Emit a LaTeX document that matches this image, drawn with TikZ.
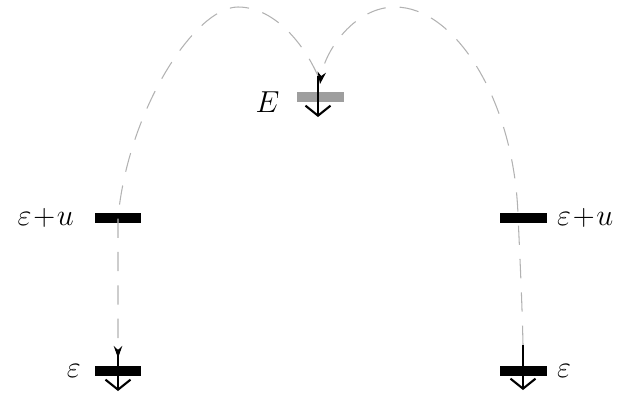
\documentclass[tikz,border=0pt]{standalone}
\usepackage{amsmath}
\usepackage{tikz}
\usetikzlibrary{arrows.meta, positioning, calc}
\definecolor{hopgray}{RGB}{178,178,178}
\definecolor{lvlgray}{RGB}{158,158,158}

\begin{document}
\begin{tikzpicture}[x=0.02cm, y=-0.02cm, font=\fontsize{16}{19}\selectfont,
  lvl/.style={fill=black, minimum width=9.4mm, minimum height=2mm, inner sep=0pt},
  lbl/.style={inner sep=0pt},
  spin/.style={-{Straight Barb[length=2mm, width=5mm]}, line width=1.2pt},
  hop/.style={hopgray, line width=0.6pt, dash pattern=on 11pt off 8pt,
              -{Stealth[length=2.4mm, width=1.7mm, color=black]}}]
\useasboundingbox (0,0) rectangle (644,393);
% levels
\node[lvl, fill=lvlgray] (E) at (320,97) {};
\node[lvl] (euL) at (118,218) {};
\node[lvl] (euR) at (523,218) {};
\node[lvl] (epL) at (118,371) {};
\node[lvl] (epR) at (523,371) {};
\node[lbl, left=3.3mm of E, yshift=-1mm] (Elbl) {$E$};
\node[lbl, left=4mm of euL] (euLlbl) {$\varepsilon\!+\!u$};
\node[lbl, right=2mm of euR] (euRlbl) {$\varepsilon\!+\!u$};
\node[lbl, left=2.6mm of epL] (epLlbl) {$\varepsilon$};
\node[lbl, right=2mm of epR] (epRlbl) {$\varepsilon$};
% hopping paths
\coordinate (Etop) at ($(E)+(-2,-21)$);
\coordinate (Ein) at ($(E)+(0,-13)$);
\coordinate (pkL) at (238,7);
\coordinate (pkR) at (395,7);
\coordinate (viaR) at (518,215);
\coordinate (epLtop) at ($(epL)+(0,-13)$);
\coordinate (epRtop) at ($(epR)+(0,-26)$);
\draw[hop] (Etop) .. controls (302,40) and (272,7) .. (pkL)
  .. controls (195,7) and (128,110) .. (euL.center)
  .. controls (118,270) and (118,310) .. (epLtop);
\draw[hop] (epRtop) .. controls (522,300) and (520,260) .. (viaR)
  .. controls (514,100) and (455,7) .. (pkR)
  .. controls (355,7) and (325,50) .. (Ein);
% spins
\draw[spin] ($(E)+(-2,-21)$) -- ($(E)+(-2,20)$);
\draw[spin] ($(epL)+(0,-18)$) -- ($(epL)+(0,20)$);
\draw[spin] ($(epR)+(0,-26)$) -- ($(epR)+(0,19)$);
\end{tikzpicture}
\end{document}
